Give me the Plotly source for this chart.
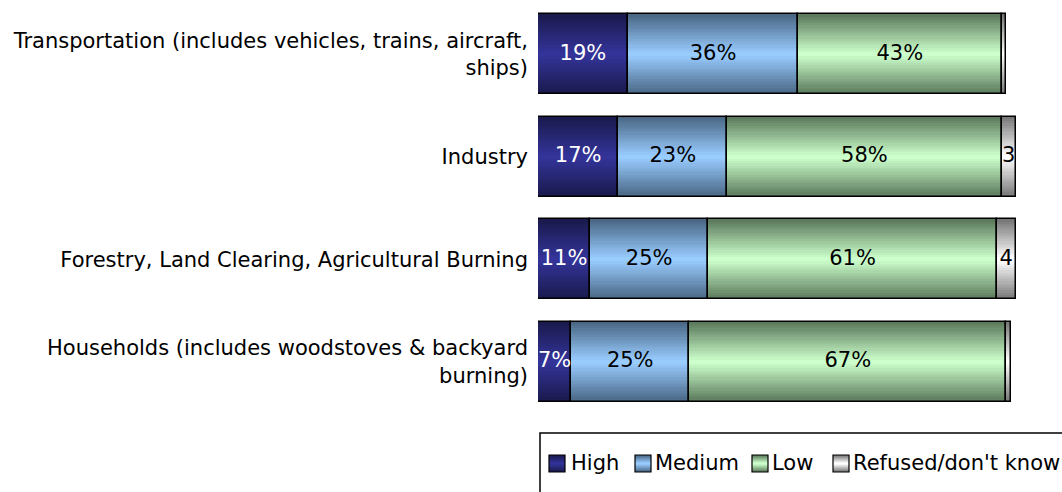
import plotly.graph_objects as go

# Survey results: perceived contribution of each source to air pollution
categories = [
    "Transportation (includes vehicles, trains, aircraft,<br>ships)",
    "Industry",
    "Forestry, Land Clearing, Agricultural Burning",
    "Households (includes woodstoves & backyard<br>burning)",
]
series_names = ["High", "Medium", "Low", "Refused/don't know"]
high = [19, 17, 11, 7]
medium = [36, 23, 25, 25]
low = [43, 58, 61, 67]
refused = [1, 3, 4, 1]
label_high = ["19%", "17%", "11%", "7%"]
label_medium = ["36%", "23%", "25%", "25%"]
label_low = ["43%", "58%", "61%", "67%"]
label_refused = ["", "3", "4", ""]

series_values = [high, medium, low, refused]
series_labels = [label_high, label_medium, label_low, label_refused]
# (edge colour, centre colour) of each series' vertical gradient
series_colors = [
    ((26, 26, 78), (51, 51, 153)),
    ((74, 104, 134), (153, 204, 255)),
    ((92, 122, 92), (204, 255, 204)),
    ((120, 120, 120), (255, 255, 255)),
]
text_colors = ["white", "black", "black", "black"]

FONT = "DejaVu Sans"
FS = 21
W, H = 1062, 492
ML, MR, MT, MB = 538, 0, 3, 79
BAR_W = 0.78
N_LAYERS = 18


def blend(c0, c1, t):
    return "rgb(%d,%d,%d)" % tuple(round(a + (b - a) * t) for a, b in zip(c0, c1))


# cumulative starting point of each segment
bases = []
running = [0] * len(categories)
for vals in series_values:
    bases.append(list(running))
    running = [r + v for r, v in zip(running, vals)]

fig = go.Figure()

# gradient fill: stacked layers of narrowing bars, lighter toward the centre
for vals, base, (c_edge, c_mid) in zip(series_values, bases, series_colors):
    for k in range(N_LAYERS):
        t = k / (N_LAYERS - 1)
        fig.add_trace(go.Bar(
            x=vals, y=categories, base=base, orientation="h",
            width=BAR_W * (1 - k / N_LAYERS),
            marker=dict(color=blend(c_edge, c_mid, t), line=dict(width=0)),
            showlegend=False, hoverinfo="skip",
        ))

# black outlines on top of the fills
for vals, base in zip(series_values, bases):
    fig.add_trace(go.Bar(
        x=vals, y=categories, base=base, orientation="h", width=BAR_W,
        marker=dict(color="rgba(0,0,0,0)", line=dict(color="black", width=1.5)),
        showlegend=False, hoverinfo="skip",
    ))

# segment value labels
for vals, base, labels, tc in zip(series_values, bases, series_labels, text_colors):
    fig.add_trace(go.Scatter(
        x=[b + v / 2 for b, v in zip(base, vals)], y=categories,
        mode="text", text=labels,
        textfont=dict(family=FONT, size=FS, color=tc),
        showlegend=False, hoverinfo="skip",
    ))

plot_w = W - ML - MR
plot_h = H - MT - MB


def px_x(px):
    return (px - ML) / plot_w


def px_y(py):
    return (H - MB - py) / plot_h


shapes = []
annotations = []

# legend frame
shapes.append(dict(type="rect", xref="paper", yref="paper",
                   x0=px_x(540), x1=px_x(1075), y0=px_y(433), y1=px_y(505),
                   line=dict(color="black", width=1.5), fillcolor="white", layer="below"))

# legend keys with the same gradient
key_x = [549, 635, 752, 833]
text_x = [569, 653, 770, 851]
key_top, key_bot = 455, 472
for name, kx, tx, (c_edge, c_mid) in zip(series_names, key_x, text_x, series_colors):
    n = 8
    hgt = key_bot - key_top
    for k in range(n):
        t = k / (n - 1)
        inset = hgt / 2 * k / n
        shapes.append(dict(type="rect", xref="paper", yref="paper",
                           x0=px_x(kx), x1=px_x(kx + 16),
                           y0=px_y(key_bot - inset), y1=px_y(key_top + inset),
                           line=dict(width=0), fillcolor=blend(c_edge, c_mid, t)))
    shapes.append(dict(type="rect", xref="paper", yref="paper",
                       x0=px_x(kx), x1=px_x(kx + 16), y0=px_y(key_bot), y1=px_y(key_top),
                       line=dict(color="black", width=1.2), fillcolor="rgba(0,0,0,0)"))
    annotations.append(dict(xref="paper", yref="paper", x=px_x(tx), y=px_y(463.5),
                            text=name, showarrow=False, xanchor="left", yanchor="middle",
                            font=dict(family=FONT, size=FS, color="black")))

fig.update_layout(
    width=W, height=H,
    margin=dict(l=ML, r=MR, t=MT, b=MB),
    barmode="overlay",
    bargap=0,
    plot_bgcolor="white", paper_bgcolor="white",
    showlegend=False,
    shapes=shapes, annotations=annotations,
    xaxis=dict(range=[0, plot_w / 4.73], visible=False, fixedrange=True),
    yaxis=dict(
        categoryorder="array", categoryarray=categories, autorange="reversed",
        range=[3.5, -0.5],
        showgrid=False, zeroline=False, showline=False, ticks="",
        ticklabelstandoff=9,
        tickfont=dict(family=FONT, size=FS, color="black"),
    ),
)

fig.write_html("out.html")
